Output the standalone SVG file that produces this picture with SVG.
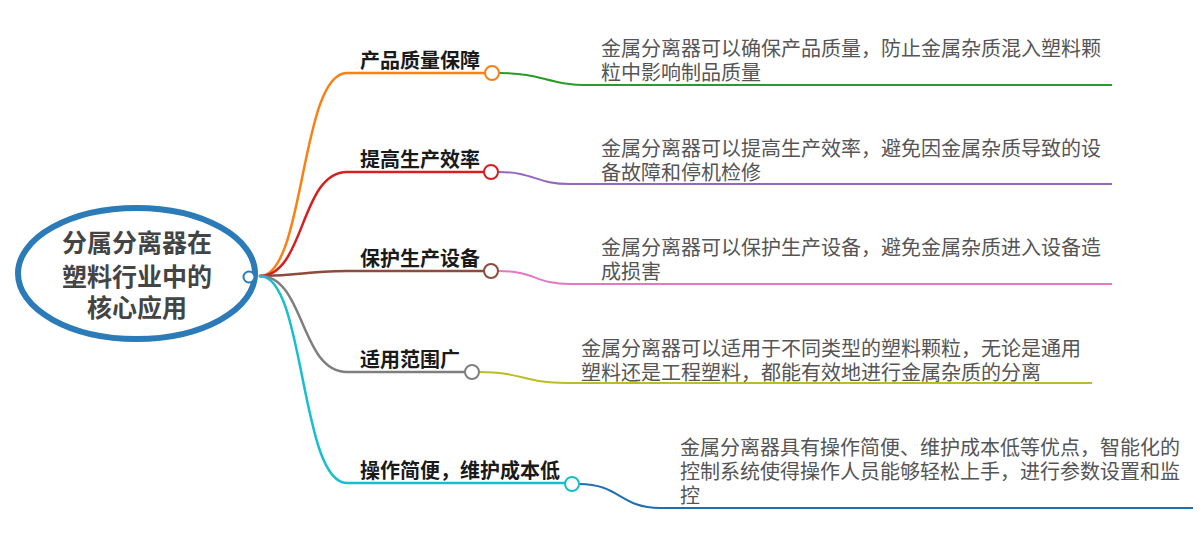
<svg xmlns="http://www.w3.org/2000/svg" width="1200" height="539" viewBox="0 0 1200 539">
<style>
.root{font-family:"Noto Sans CJK SC","Noto Sans",sans-serif;font-size:25px;font-weight:bold;fill:#444;text-anchor:middle}
.title{font-family:"Noto Sans CJK SC","Noto Sans",sans-serif;font-size:20px;font-weight:bold;fill:#1a1a1a}
.leaf{font-family:"Noto Sans CJK SC","Noto Sans",sans-serif;font-size:20px;fill:#555}
.c{fill:none;stroke-width:2.5;stroke-linecap:round}
.l{fill:none;stroke-width:2}
.dot{fill:#fff;stroke-width:2}
</style>
<rect width="1200" height="539" fill="#fff"/>
<g id="connectors">
<path class="c" stroke="#f98012" d="M260,276 C305,276 300,73 347,73 L485,73"/>
<path class="c" stroke="#d62020" d="M260,276 C305,276 300,172 347,172 L484,172"/>
<path class="c" stroke="#8c4b3c" d="M260,276 C305,276 300,271 347,271 L484,271"/>
<path class="c" stroke="#7f7f7f" d="M260,276 C305,276 300,372 347,372 L465,372"/>
<path class="c" stroke="#17becf" d="M260,276 C305,276 300,483 347,483 L565,483"/>
<path class="l" stroke="#2a9a2a" d="M499,73 C545,73 545,85 590,85 L1112,85"/>
<path class="l" stroke="#9467bd" d="M498,172 C535,172 535,184 570,184 L1112,184"/>
<path class="l" stroke="#e377c2" d="M498,271 C535,271 535,284 570,284 L1112,284"/>
<path class="l" stroke="#bcbd22" d="M479,372 C523,372 523,383 567,383 L1092,383"/>
<path class="l" stroke="#1f6fb4" d="M579,484 C620,484 620,508 660,508 L1193,508"/>
</g>
<g id="root">
<ellipse cx="136.5" cy="273.5" rx="118.5" ry="65.5" fill="#fff" stroke="#2b7bb9" stroke-width="6"/>
<circle cx="249" cy="277" r="5.5" fill="#fff" stroke="#2b7bb9" stroke-width="2"/>
<text class="root"><tspan x="137" y="252">分属分离器在</tspan><tspan x="137" y="286">塑料行业中的</tspan><tspan x="137" y="317">核心应用</tspan></text>
</g>
<g id="b1">
<text class="title" x="360" y="68">产品质量保障</text>
<circle class="dot" cx="492" cy="73" r="7" stroke="#f98012"/>
</g>
<g id="l1">
<text class="leaf"><tspan x="601" y="56">金属分离器可以确保产品质量，防止金属杂质混入塑料颗</tspan><tspan x="601" y="80">粒中影响制品质量</tspan></text>
</g>
<g id="b2">
<text class="title" x="360" y="167">提高生产效率</text>
<circle class="dot" cx="491" cy="172" r="7" stroke="#d62020"/>
</g>
<g id="l2">
<text class="leaf"><tspan x="601" y="156">金属分离器可以提高生产效率，避免因金属杂质导致的设</tspan><tspan x="601" y="180">备故障和停机检修</tspan></text>
</g>
<g id="b3">
<text class="title" x="360" y="266">保护生产设备</text>
<circle class="dot" cx="491" cy="271" r="7" stroke="#8c4b3c"/>
</g>
<g id="l3">
<text class="leaf"><tspan x="601" y="255">金属分离器可以保护生产设备，避免金属杂质进入设备造</tspan><tspan x="601" y="279">成损害</tspan></text>
</g>
<g id="b4">
<text class="title" x="360" y="367">适用范围广</text>
<circle class="dot" cx="472" cy="372" r="7" stroke="#7f7f7f"/>
</g>
<g id="l4">
<text class="leaf"><tspan x="581" y="356">金属分离器可以适用于不同类型的塑料颗粒，无论是通用</tspan><tspan x="581" y="380">塑料还是工程塑料，都能有效地进行金属杂质的分离</tspan></text>
</g>
<g id="b5">
<text class="title" x="360" y="478">操作简便，维护成本低</text>
<circle class="dot" cx="572" cy="484" r="7" stroke="#17becf"/>
</g>
<g id="l5">
<text class="leaf"><tspan x="680" y="455">金属分离器具有操作简便、维护成本低等优点，智能化的</tspan><tspan x="680" y="479">控制系统使得操作人员能够轻松上手，进行参数设置和监</tspan><tspan x="680" y="503">控</tspan></text>
</g>
</svg>
